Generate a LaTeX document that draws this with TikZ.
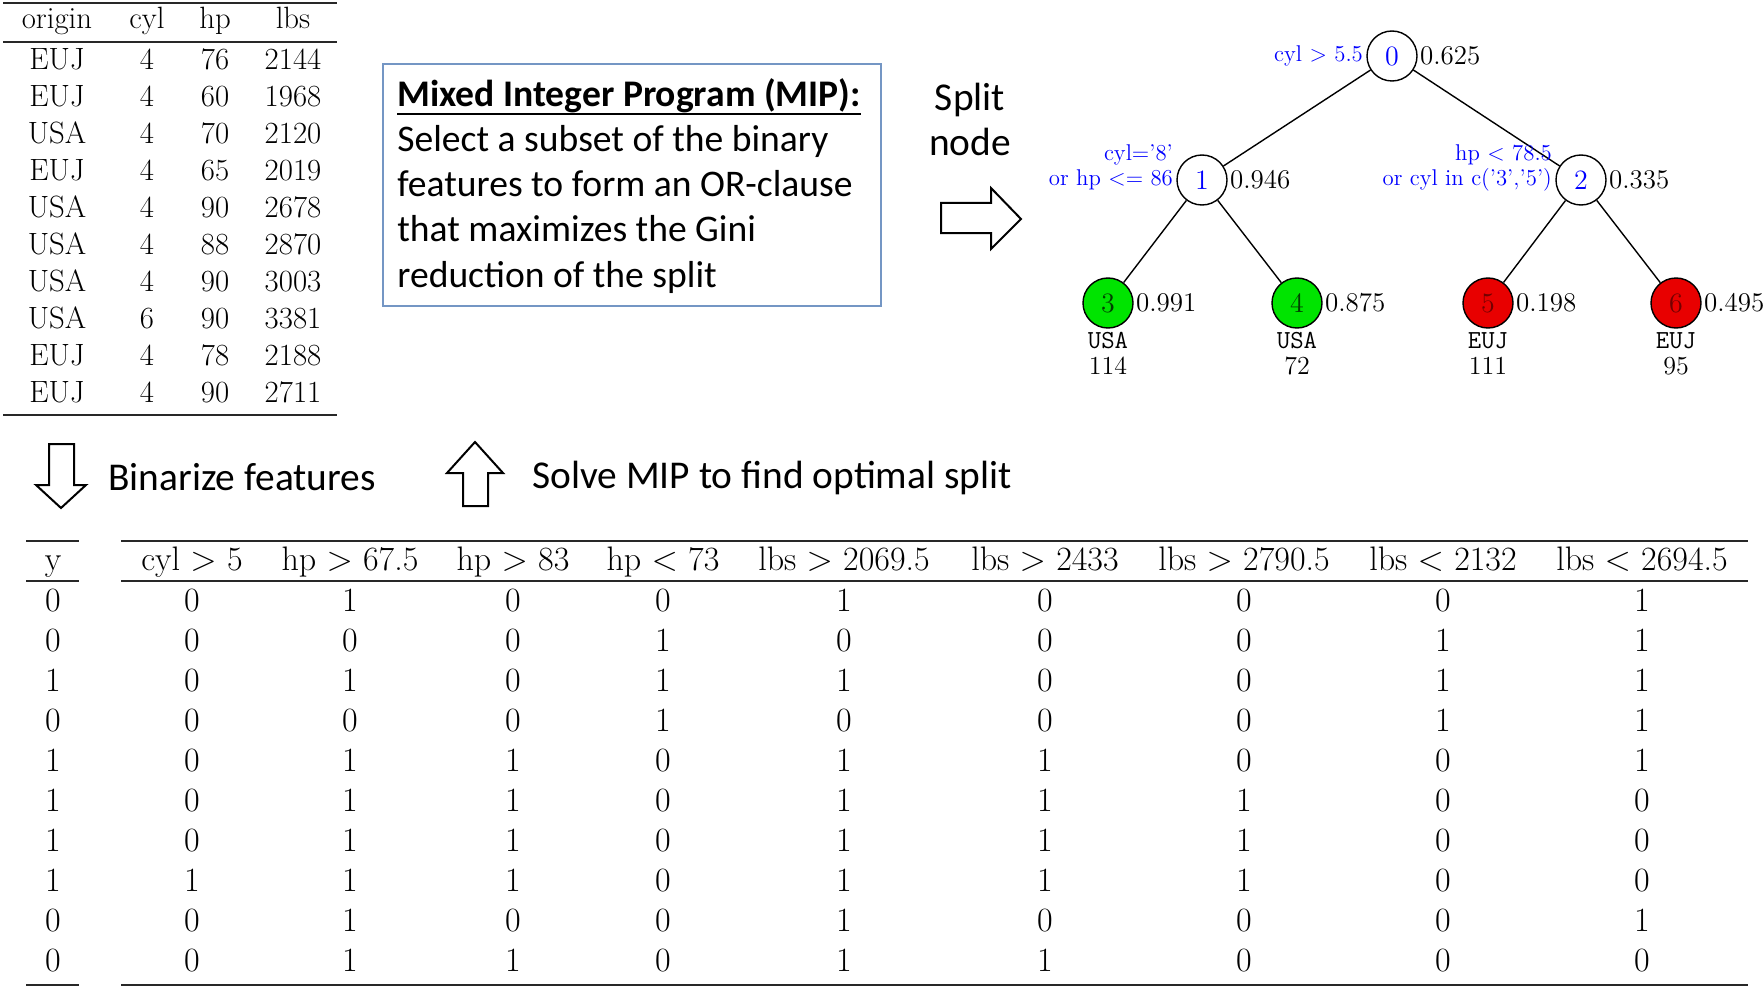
\documentclass[tikz,border=0pt]{standalone}
\usepackage{fontspec}
\newfontfamily\calib{Carlito}
\definecolor{boxblue}{RGB}{116,150,196}
\definecolor{leafgreen}{RGB}{0,228,0}
\definecolor{leafred}{RGB}{232,0,0}
\definecolor{rulegray}{RGB}{40,40,40}
\newcommand\ulbox[1]{\setbox0\hbox{#1}\rlap{\rule[-4pt]{\wd0}{1.1pt}}\box0}
\begin{document}
\begin{tikzpicture}[x=0.5pt,y=-0.5pt,
  ttab/.style={font=\fontsize{15.4}{18}\selectfont, inner sep=0pt, anchor=base},
  btab/.style={font=\fontsize{17}{20}\selectfont, inner sep=0pt, anchor=base},
  inode/.style={circle, draw, line width=0.7pt, minimum size=25pt, inner sep=0pt,
                font=\fontsize{14}{16}\selectfont, text=blue, fill=white},
  leafg/.style={inode, fill=leafgreen, text=green!25!black},
  leafr/.style={inode, fill=leafred, text=red!45!black},
  gini/.style={font=\fontsize{13.5}{15}\selectfont, inner sep=1pt, anchor=west},
  cond/.style={font=\fontsize{11.4}{13}\selectfont, text=blue, inner sep=1.5pt, anchor=east},
  leaflab/.style={font=\fontsize{13}{14}\selectfont, inner sep=0pt, anchor=base, text depth=0pt},
  mipline/.style={font=\calib\fontsize{18.8}{22.5}\selectfont, inner sep=0pt, anchor=base west},
  biglbl/.style={font=\calib\fontsize{19.7}{22.5}\selectfont, inner sep=0pt},
  blockarrow/.style={draw, line width=1pt, fill=white, line join=miter},
  thickrule/.style={line width=1pt, rulegray},
  thinrule/.style={line width=0.6pt, rulegray},
  edge/.style={line width=0.7pt}
]
\useasboundingbox (0,0) rectangle (1763,990);

% ---------- top data table ----------
\draw[thickrule] (3,3) -- (337,3);
\draw[thinrule] (3,42) -- (337,42);
\draw[thickrule] (3,415) -- (337,415);
\node[ttab] (h-origin) at (57,29) {origin};
\node[ttab] (h-cyl) at (147,29) {cyl};
\node[ttab] (h-hp) at (215,29) {hp};
\node[ttab] (h-lbs) at (293,29) {lbs};
\foreach \va/\vb/\vc/\vd [count=\i from 0] in
  {EUJ/4/76/2144, EUJ/4/60/1968, USA/4/70/2120, EUJ/4/65/2019, USA/4/90/2678,
   USA/4/88/2870, USA/4/90/3003, USA/6/90/3381, EUJ/4/78/2188, EUJ/4/90/2711}{
  \pgfmathsetmacro\yb{69.5+37*\i}
  \node[ttab] (to-\i) at (57,\yb) {\va};
  \node[ttab] (tc-\i) at (147,\yb) {\vb};
  \node[ttab] (th-\i) at (215,\yb) {\vc};
  \node[ttab] (tl-\i) at (293,\yb) {\vd};
}

% ---------- MIP box ----------
\node[draw=boxblue, line width=1pt, minimum width=249pt, minimum height=121pt,
      inner sep=0pt, anchor=north west] (mipbox) at (382,63) {};
\node[mipline] (mip1) at (397,107) {\ulbox{\textbf{Mixed Integer Program (MIP):}}};
\node[mipline] (mip2) at (397,152) {Select a subset of the binary};
\node[mipline] (mip3) at (397,197) {features to form an OR-clause};
\node[mipline] (mip4) at (397,242) {that maximizes the Gini};
\node[mipline] (mip5) at (397,287) {reduction of the split};

% ---------- split node arrow ----------
\node[biglbl, align=center] (splitlbl) at (970,119) {Split\\node};
\draw[blockarrow] (941,203) -- (991,203) -- (991,188) -- (1021,219) -- (991,249)
  -- (991,233) -- (941,233) -- cycle;

% ---------- tree ----------
\node[inode] (n0) at (1392,56) {0};
\node[inode] (n1) at (1202,180) {1};
\node[inode] (n2) at (1581,180) {2};
\node[leafg] (n3) at (1108,303) {3};
\node[leafg] (n4) at (1297,303) {4};
\node[leafr] (n5) at (1488,303) {5};
\node[leafr] (n6) at (1676,303) {6};
\draw[edge] (n0) -- (n1);
\draw[edge] (n0) -- (n2);
\draw[edge] (n1) -- (n3);
\draw[edge] (n1) -- (n4);
\draw[edge] (n2) -- (n5);
\draw[edge] (n2) -- (n6);
\node[gini] (g0) at (n0.east) {0.625};
\node[gini] (g1) at (n1.east) {0.946};
\node[gini] (g2) at (n2.east) {0.335};
\node[gini] (g3) at (n3.east) {0.991};
\node[gini] (g4) at (n4.east) {0.875};
\node[gini] (g5) at (n5.east) {0.198};
\node[gini] (g6) at (n6.east) {0.495};
\node[cond] (c0) at (n0.west) {cyl > 5.5};
\node[cond] (c1b) at (n1.west) {or hp <= 86};
\node[cond] (c1a) at ([yshift=12.5pt]n1.west) {cyl='8'};
\node[cond] (c2b) at (n2.west) {or cyl in c('3','5')};
\node[cond] (c2a) at ([yshift=12.5pt]n2.west) {hp < 78.5};
\foreach \n/\cls/\cnt in {3/USA/114, 4/USA/72, 5/EUJ/111, 6/EUJ/95}{
  \node[leaflab] (cls\n) at ([yshift=-22.5pt]n\n) {\ttfamily\cls};
  \node[leaflab] (cnt\n) at ([yshift=-35.5pt]n\n) {\cnt};
}

% ---------- middle arrows ----------
\draw[blockarrow] (49,444) -- (74,444) -- (74,485) -- (86,485) -- (61,508)
  -- (36,485) -- (49,485) -- cycle;
\node[biglbl, anchor=west] (binlbl) at (108,477) {Binarize features};
\draw[blockarrow] (463,506) -- (488,506) -- (488,473) -- (503,473) -- (475,442)
  -- (447,473) -- (463,473) -- cycle;
\node[biglbl, anchor=west] (solvelbl) at (532,478) {Solve MIP to find optimal split};

% ---------- binarized table ----------
\draw[thinrule] (26,541) -- (79,541);
\draw[thinrule] (26,581) -- (79,581);
\draw[thickrule] (26,985) -- (79,985);
\draw[thinrule] (121,541) -- (1748,541);
\draw[thinrule] (121,581) -- (1748,581);
\draw[thickrule] (121,985) -- (1748,985);
\def\colxs{{53,192,350,513,663,844,1045,1244,1443,1642}}
\foreach \hd [count=\j] in {y, cyl $>$ 5, hp $>$ 67.5, hp $>$ 83, hp $<$ 73,
   lbs $>$ 2069.5, lbs $>$ 2433, lbs $>$ 2790.5, lbs $<$ 2132, lbs $<$ 2694.5}{
  \pgfmathsetmacro\cx{\colxs[\j-1]}
  \node[btab] (bh-\j) at (\cx,570) {\hd};
}
\foreach \rowdata [count=\i from 0] in
  {{0,0,1,0,0,1,0,0,0,1},{0,0,0,0,1,0,0,0,1,1},{1,0,1,0,1,1,0,0,1,1},
   {0,0,0,0,1,0,0,0,1,1},{1,0,1,1,0,1,1,0,0,1},{1,0,1,1,0,1,1,1,0,0},
   {1,0,1,1,0,1,1,1,0,0},{1,1,1,1,0,1,1,1,0,0},{0,0,1,0,0,1,0,0,0,1},
   {0,0,1,1,0,1,1,0,0,0}}{
  \pgfmathsetmacro\yb{611.5+40*\i}
  \foreach \v [count=\j] in \rowdata{
    \pgfmathsetmacro\cx{\colxs[\j-1]}
    \node[btab] (b-\i-\j) at (\cx,\yb) {\v};
  }
}
\end{tikzpicture}
\end{document}
